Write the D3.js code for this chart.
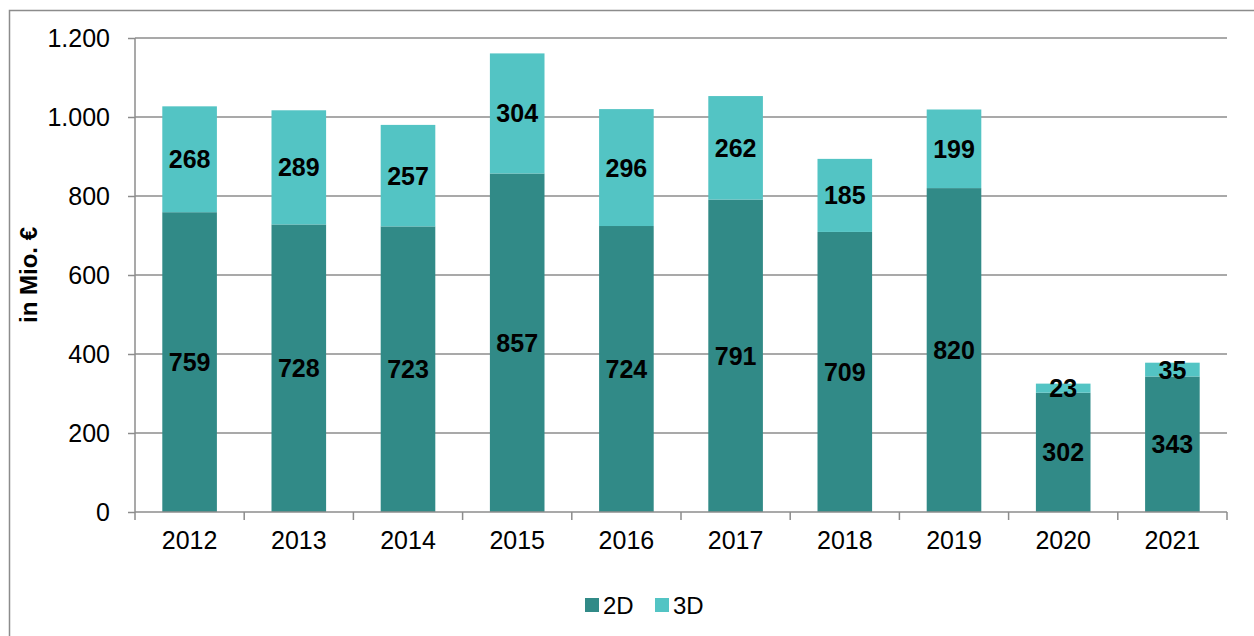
<!DOCTYPE html>
<html><head><meta charset="utf-8">
<script src="https://cdn.jsdelivr.net/npm/d3@7"></script>
<style>body{margin:0;background:#fff}svg{display:block;font-family:"Liberation Sans",Arial,sans-serif}</style>
</head><body><svg id="c" width="1254" height="636"></svg>
<script>
const years = ["2012","2013","2014","2015","2016","2017","2018","2019","2020","2021"];
const values2D = [759,728,723,857,724,791,709,820,302,343];
const values3D = [268,289,257,304,296,262,185,199,23,35];
const seriesNames = ["2D","3D"];
const seriesColors = ["#318a87","#53c4c4"];
const yTicks = [0,200,400,600,800,1000,1200];

const svg = d3.select("#c");
const m = {l:135, t:38, r:1227, b:512};
svg.append("rect").attr("x",9.5).attr("y",10.5).attr("width",1260).attr("height",640)
  .attr("fill","none").attr("stroke","#8c8c8c").attr("stroke-width",1.5);

const x = d3.scaleBand().domain(years).range([m.l,m.r]).paddingInner(0.5).paddingOuter(0.25);
const y = d3.scaleLinear().domain([0,1200]).range([m.b,m.t]);
const fmt = v => d3.format(",")(v).replace(/,/g,".");

svg.append("g").selectAll("line").data(yTicks.filter(d=>d>0)).join("line")
  .attr("x1",m.l).attr("x2",m.r).attr("y1",d=>y(d)).attr("y2",d=>y(d))
  .attr("stroke","#8c8c8c").attr("stroke-width",1.5);

const data = years.map((yr,i)=>({yr, a:values2D[i], b:values3D[i]}));
const bw = x.bandwidth();
const g = svg.append("g");
g.selectAll("rect.a").data(data).join("rect").attr("class","a")
  .attr("x",d=>x(d.yr)).attr("width",bw).attr("y",d=>y(d.a)).attr("height",d=>y(0)-y(d.a))
  .attr("fill",seriesColors[0]);
g.selectAll("rect.b").data(data).join("rect").attr("class","b")
  .attr("x",d=>x(d.yr)).attr("width",bw).attr("y",d=>y(d.a+d.b)).attr("height",d=>y(d.a)-y(d.a+d.b))
  .attr("fill",seriesColors[1]);

const ya = svg.append("g").attr("transform",`translate(${m.l},0)`)
  .call(d3.axisLeft(y).tickValues(yTicks).tickFormat(fmt).tickSize(7).tickPadding(18));
ya.attr("font-size",null).attr("font-family",null);
ya.select(".domain").attr("stroke","#8c8c8c").attr("stroke-width",1.5).attr("d",`M-0,${m.t}V${m.b}`);
ya.selectAll(".tick line").attr("stroke","#8c8c8c").attr("stroke-width",1.5);
ya.selectAll(".tick text").style("font-size","25px").attr("fill","#000");

const xa = svg.append("g").attr("transform",`translate(0,${m.b})`)
  .call(d3.axisBottom(x).tickSize(0).tickPadding(19));
xa.attr("font-size",null).attr("font-family",null);
xa.select(".domain").attr("stroke","#8c8c8c").attr("stroke-width",1.5).attr("d",`M${m.l},0H${m.r}`);
xa.selectAll(".tick text").style("font-size","25px").attr("fill","#000");
const bounds = d3.range(years.length+1).map(i=>m.l + i*(m.r-m.l)/years.length);
xa.append("g").selectAll("line").data(bounds).join("line")
  .attr("x1",d=>d).attr("x2",d=>d).attr("y1",0).attr("y2",8)
  .attr("stroke","#8c8c8c").attr("stroke-width",1.5);

const lab = svg.append("g").attr("font-weight","bold").style("font-size","25px").attr("text-anchor","middle").attr("fill","#000");
lab.selectAll("text.a").data(data).join("text").attr("class","a")
  .attr("x",d=>x(d.yr)+bw/2).attr("y",d=>y(d.a/2)).attr("dy","0.36em").text(d=>d.a);
lab.selectAll("text.b").data(data).join("text").attr("class","b")
  .attr("x",d=>x(d.yr)+bw/2).attr("y",d=>y(d.a+d.b/2)).attr("dy","0.36em").text(d=>d.b);

svg.append("text").attr("transform","translate(37,275) rotate(-90)").attr("text-anchor","middle")
  .attr("font-weight","bold").style("font-size","24px").text("in Mio. €");

const lg = svg.append("g").attr("transform","translate(585,605)");
const items = lg.selectAll("g").data(seriesNames).join("g").attr("transform",(d,i)=>`translate(${i*70},0)`);
items.append("rect").attr("x",0).attr("y",-7).attr("width",14).attr("height",14).attr("fill",(d,i)=>seriesColors[i]);
items.append("text").attr("x",18).attr("dy","0.36em").style("font-size","24px").text(d=>d);
</script></body></html>
